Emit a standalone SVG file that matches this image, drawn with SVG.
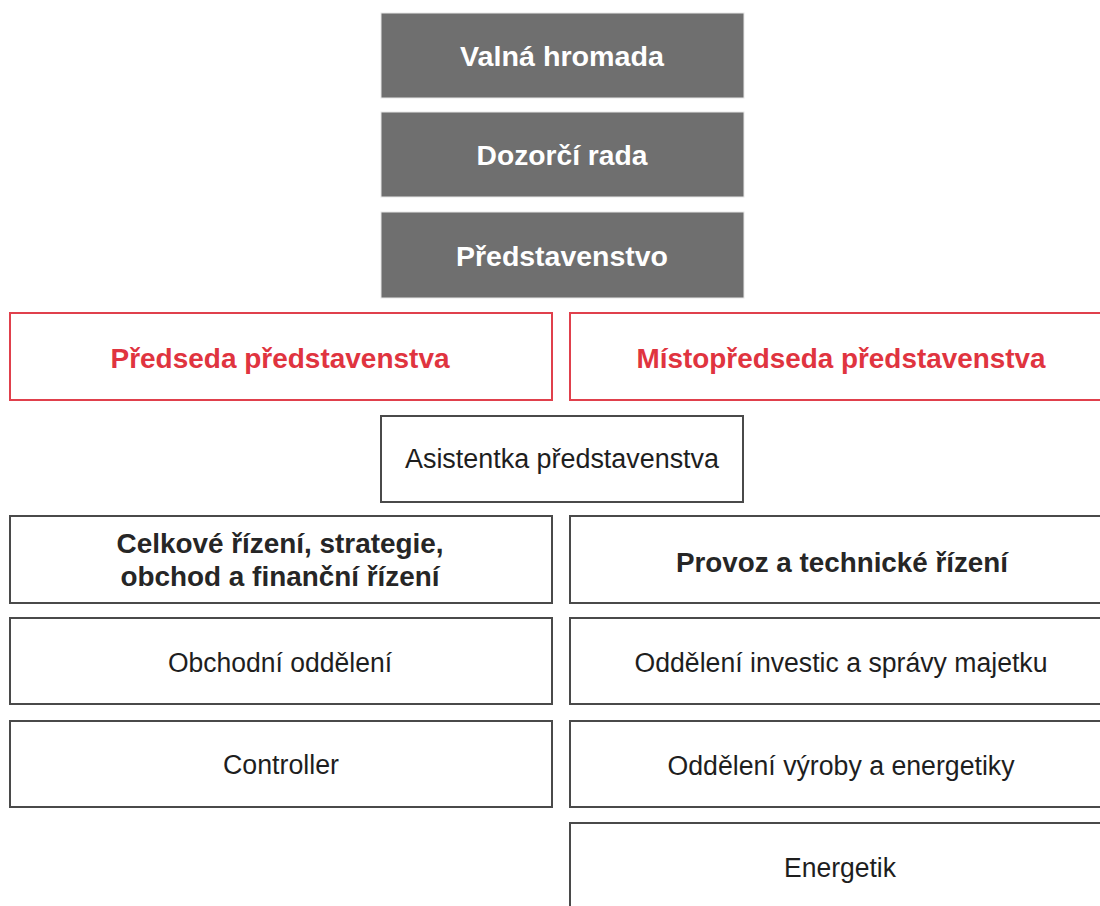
<svg xmlns="http://www.w3.org/2000/svg" width="1100" height="906" viewBox="0 0 1100 906">
<style>
text{font-family:"Liberation Sans",Arial,sans-serif;text-anchor:middle}
.gbox{fill:#6f6f6f;stroke:#e8e8e8;stroke-width:1}
.gtxt{fill:#ffffff;font-weight:bold;font-size:28px}
.rbox{fill:#ffffff;stroke:#e0404c;stroke-width:2}
.rtxt{fill:#e0343f;font-weight:bold;font-size:28px}
.box{fill:#ffffff;stroke:#4a4a4a;stroke-width:2}
.btxt{fill:#262626;font-weight:bold;font-size:27px}
.txt{fill:#1e1e1e;font-size:27px}
</style>
<rect x="0" y="0" width="1100" height="906" fill="#ffffff"/>
<g id="connectors"/>
<g id="valna-hromada"><rect class="gbox" x="381" y="13" width="363" height="85"/><text class="gtxt" x="562" y="66" textLength="204" lengthAdjust="spacingAndGlyphs">Valná hromada</text></g>
<g id="dozorci-rada"><rect class="gbox" x="381" y="112" width="363" height="85"/><text class="gtxt" x="562" y="165" textLength="171" lengthAdjust="spacingAndGlyphs">Dozorčí rada</text></g>
<g id="predstavenstvo"><rect class="gbox" x="381" y="212" width="363" height="86"/><text class="gtxt" x="562" y="266" textLength="212" lengthAdjust="spacingAndGlyphs">Představenstvo</text></g>
<g id="predseda"><rect class="rbox" x="10" y="313" width="542" height="87"/><text class="rtxt" x="280" y="368" textLength="339" lengthAdjust="spacingAndGlyphs">Předseda představenstva</text></g>
<g id="mistopredseda"><rect class="rbox" x="570" y="313" width="542" height="87"/><text class="rtxt" x="841" y="368" textLength="409" lengthAdjust="spacingAndGlyphs">Místopředseda představenstva</text></g>
<g id="asistentka"><rect class="box" x="381" y="416" width="362" height="86"/><text class="txt" x="562" y="468" textLength="314" lengthAdjust="spacingAndGlyphs">Asistentka představenstva</text></g>
<g id="celkove-rizeni"><rect class="box" x="10" y="516" width="542" height="87"/><text class="btxt" x="280" y="553" textLength="327" lengthAdjust="spacingAndGlyphs">Celkové řízení, strategie,</text><text class="btxt" x="280" y="586" textLength="319" lengthAdjust="spacingAndGlyphs">obchod a finanční řízení</text></g>
<g id="provoz"><rect class="box" x="570" y="516" width="542" height="87"/><text class="btxt" x="842" y="572" textLength="332" lengthAdjust="spacingAndGlyphs">Provoz a technické řízení</text></g>
<g id="obchodni-oddeleni"><rect class="box" x="10" y="618" width="542" height="86"/><text class="txt" x="280" y="672" textLength="224" lengthAdjust="spacingAndGlyphs">Obchodní oddělení</text></g>
<g id="oddeleni-investic"><rect class="box" x="570" y="618" width="542" height="86"/><text class="txt" x="841" y="672" textLength="413" lengthAdjust="spacingAndGlyphs">Oddělení investic a správy majetku</text></g>
<g id="controller"><rect class="box" x="10" y="721" width="542" height="86"/><text class="txt" x="281" y="774" textLength="116" lengthAdjust="spacingAndGlyphs">Controller</text></g>
<g id="oddeleni-vyroby"><rect class="box" x="570" y="721" width="542" height="86"/><text class="txt" x="841" y="775" textLength="347" lengthAdjust="spacingAndGlyphs">Oddělení výroby a energetiky</text></g>
<g id="energetik"><rect class="box" x="570" y="823" width="542" height="100"/><text class="txt" x="840" y="877" textLength="112" lengthAdjust="spacingAndGlyphs">Energetik</text></g>
</svg>
